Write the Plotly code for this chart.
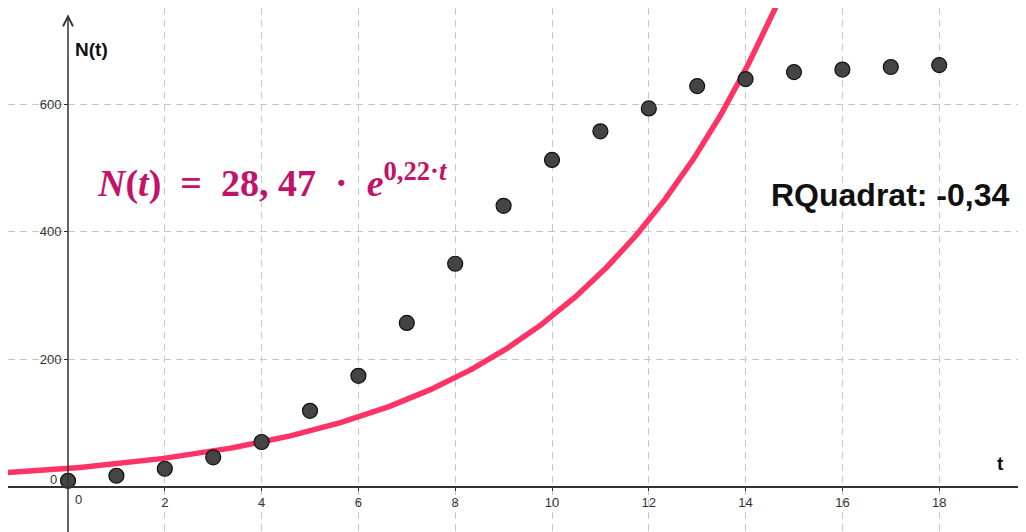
import numpy as np
import plotly.graph_objects as go

# Data
t_values = [0, 1, 2, 3, 4, 5, 6, 7, 8, 9, 10, 11, 12, 13, 14, 15, 16, 17, 18]
n_values = [9, 17, 28, 46, 70, 119, 174, 257, 350, 441, 513, 558, 594, 629, 640, 651, 655, 659, 662]

# Fitted model N(t) = a * e^(b t)
fit_a = 28.47
fit_b = 0.224

x_ticks = [2, 4, 6, 8, 10, 12, 14, 16, 18]
y_ticks = [200, 400, 600]
x_range = [-1.240, 19.959]
y_range = [-83.9, 751.7]

formula_text = ("<b><i>N</i>(<i>t</i>)&nbsp;&nbsp;=&nbsp;&nbsp;28,&nbsp;47&nbsp;&nbsp;·&nbsp;&nbsp;"
                "<i>e</i><sup>0,22·<i>t</i></sup></b>")
r2_text = "<b>RQuadrat: -0,34</b>"

t_curve = np.linspace(x_range[0] - 0.5, 15.5, 400)
n_curve = fit_a * np.exp(fit_b * t_curve)

fig = go.Figure()
fig.add_trace(go.Scatter(x=t_curve, y=n_curve, mode="lines",
                         line=dict(color="#ff3366", width=5.5),
                         hoverinfo="skip", showlegend=False))
fig.add_trace(go.Scatter(x=t_values, y=n_values, mode="markers",
                         marker=dict(size=15, color="#444444",
                                     line=dict(color="#111111", width=1.2)),
                         showlegend=False))

axis_font = dict(family="Liberation Sans, Arial, sans-serif", size=13, color="#333333")
fig.update_layout(
    width=1026, height=532,
    margin=dict(l=0, r=0, t=0, b=0),
    paper_bgcolor="white", plot_bgcolor="white",
    xaxis=dict(range=x_range, domain=[0, 1], anchor="free", position=(532 - 478.6) / 532,
               tickvals=x_ticks, ticks="outside", ticklen=4, tickcolor="#333333",
               showline=True, linecolor="#333333", linewidth=1.5,
               showgrid=True, gridcolor="#c8c8c8", gridwidth=1, griddash="7px,5px",
               zeroline=False, tickfont=axis_font, fixedrange=True),
    yaxis=dict(range=y_range, domain=[0, 1], anchor="free", position=60 / 1026,
               tickvals=y_ticks, ticks="outside", ticklen=4, tickcolor="#333333",
               showline=False,
               showgrid=True, gridcolor="#c8c8c8", gridwidth=1, griddash="7px,5px",
               zeroline=False, tickfont=axis_font, fixedrange=True),
)

# y axis line with arrow
fig.add_annotation(x=0, y=742, ax=0, ay=y_range[0] - 20, xref="x", yref="y",
                   axref="x", ayref="y", text="", showarrow=True,
                   arrowhead=5, arrowsize=1.3, arrowwidth=1.5, arrowcolor="#333333")

# zero tick labels
fig.add_annotation(x=0.207, y=-21, xref="x", yref="y", text="0", showarrow=False,
                   font=axis_font, xanchor="center", yanchor="middle")
fig.add_annotation(x=-0.186, y=11.5, xref="x", yref="y", text="0", showarrow=False,
                   font=axis_font, xanchor="right", yanchor="middle")

label_font = dict(family="Liberation Sans, Arial, sans-serif", size=19, color="#111111")
fig.add_annotation(x=0.097, y=686, xref="x", yref="y", text="<b>N(t)</b>", showarrow=False,
                   font=label_font, xanchor="left", yanchor="middle")
fig.add_annotation(x=19.26, y=37, xref="x", yref="y", text="<b>t</b>", showarrow=False,
                   font=label_font, xanchor="center", yanchor="middle")

fig.add_annotation(x=0.558, y=480, xref="x", yref="y", text=formula_text, showarrow=False,
                   font=dict(family="Liberation Serif, Times New Roman, serif", size=38,
                             color="#c2136b"),
                   xanchor="left", yanchor="middle")
fig.add_annotation(x=14.49, y=458, xref="x", yref="y", text=r2_text, showarrow=False,
                   font=dict(family="Liberation Sans, Arial, sans-serif", size=32,
                             color="#111111"),
                   xanchor="left", yanchor="middle")

fig.write_html("out.html")
